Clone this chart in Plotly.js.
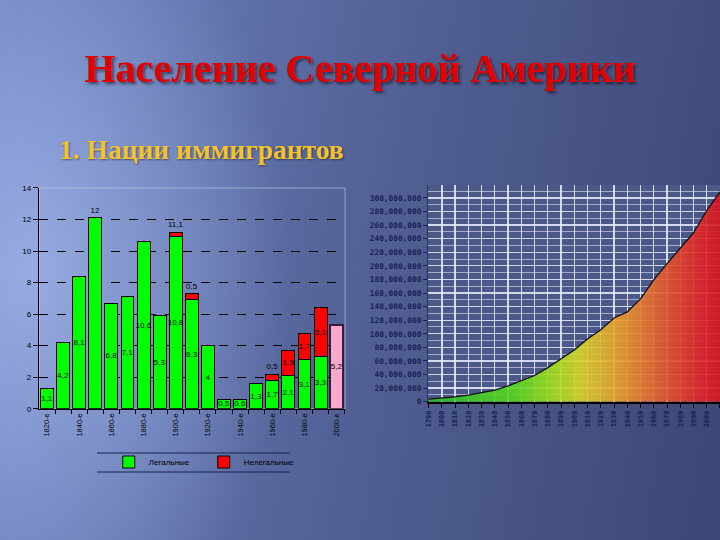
<!DOCTYPE html>
<html>
<head>
<meta charset="utf-8">
<script src="https://cdn.plot.ly/plotly-3.0.1.min.js"></script>
<style>
html, body { margin: 0; padding: 0; }
body {
  width: 720px; height: 540px; overflow: hidden;
  background:
    radial-gradient(ellipse 260px 420px at 30px 270px, rgba(160,180,235,0.85), rgba(160,180,235,0) 100%),
    linear-gradient(100deg, #6c80bd 0%, #5f72aa 28%, #4e5c8f 58%, #3d4775 100%);
}
#chart { width: 720px; height: 540px; }
</style>
</head>
<body>
<div id="chart"></div>
<script>
// ---- Left chart: immigration by decade ----
const decades = [1820,1830,1840,1850,1860,1870,1880,1890,1900,1910,1920,1930,1940,1950,1960,1970,1980,1990,2000];
const decadeTicks = [1820,1840,1860,1880,1900,1920,1940,1960,1980,2000];
const decadeTickLabels = ['1820-е','1840-е','1860-е','1880-е','1900-е','1920-е','1940-е','1960-е','1980-е','2000-е'];
const legal = [1.3,4.2,8.4,12.1,6.7,7.1,10.6,5.9,10.9,6.9,4.0,0.6,0.6,1.6,1.8,2.1,3.1,3.3,null];
const legalText = ['1,1','4,2','8,1','12','6,8','7,1','10,6','5,3','10,8','6,3','4','0,5','0,6','1,3','1,7','2,1','3,1','3,3',''];
const illegal = [null,null,null,null,null,null,null,null,0.3,0.4,null,null,null,null,0.4,1.6,1.7,3.1,null];
const illegalText = ['','','','','','','','','11,1','0,5','','','','','0,5','1,5','1,7','3,1',''];
const forecast = [null,null,null,null,null,null,null,null,null,null,null,null,null,null,null,null,null,null,5.3];
const forecastText = ['','','','','','','','','','','','','','','','','','','5,2'];
const legendNames = ['Легальные','Нелегальные'];

// ---- Right chart: US population ----
const years = [1790,1800,1810,1820,1830,1840,1850,1860,1870,1880,1890,1900,1910,1920,1930,1940,1950,1960,1970,1980,1990,2000,2010];
const population = [3.93e6,5.31e6,7.24e6,9.64e6,12.87e6,17.07e6,23.19e6,31.44e6,38.56e6,50.19e6,62.98e6,76.21e6,92.23e6,106.02e6,123.2e6,132.16e6,151.33e6,179.32e6,203.3e6,226.54e6,248.71e6,281.42e6,308.75e6];

const titleText = 'Население Северной Америки';
const subtitleText = '1. Нации иммигрантов';

const legalPos = legal.map((v, i) => i === 3 ? 'outside' : 'inside');
const illegalPos = illegal.map((v, i) => (i === 8 || i === 9 || i === 14) ? 'outside' : 'inside');

const smallFont = {family: 'Liberation Sans, Arial, sans-serif', size: 8, color: '#000'};

const traces = [
  {
    type: 'bar', x: decades, y: legal, name: legendNames[0],
    marker: {color: '#00ff00', line: {color: '#000', width: 1}},
    text: legalText, textposition: legalPos, insidetextanchor: 'middle',
    constraintext: 'none', textangle: 0, cliponaxis: false,
    textfont: smallFont, insidetextfont: smallFont, outsidetextfont: smallFont,
    hoverinfo: 'skip', xaxis: 'x', yaxis: 'y'
  },
  {
    type: 'bar', x: decades, y: illegal, name: legendNames[1],
    marker: {color: '#ff0000', line: {color: '#000', width: 1}},
    text: illegalText, textposition: illegalPos, insidetextanchor: 'middle',
    constraintext: 'none', textangle: 0, cliponaxis: false,
    textfont: smallFont, insidetextfont: smallFont, outsidetextfont: smallFont,
    hoverinfo: 'skip', xaxis: 'x', yaxis: 'y'
  },
  {
    type: 'bar', x: decades, y: forecast, showlegend: false,
    marker: {color: '#f7aacb', line: {color: '#3a1a3a', width: 1.5}},
    text: forecastText, textposition: 'inside', insidetextanchor: 'middle',
    constraintext: 'none', textangle: 0,
    textfont: smallFont, insidetextfont: smallFont,
    hoverinfo: 'skip', xaxis: 'x', yaxis: 'y'
  },
  {
    type: 'scatter', mode: 'lines', x: years, y: population, showlegend: false,
    line: {color: '#111', width: 1.3},
    fill: 'tozeroy',
    fillgradient: {
      type: 'horizontal',
      colorscale: [
        [0.00, 'rgba(40,190,40,0.9)'],
        [0.30, 'rgba(90,215,30,0.9)'],
        [0.43, 'rgba(165,220,30,0.9)'],
        [0.52, 'rgba(215,212,40,0.9)'],
        [0.65, 'rgba(232,160,45,0.9)'],
        [0.78, 'rgba(228,100,45,0.9)'],
        [0.91, 'rgba(225,45,40,0.9)'],
        [1.00, 'rgba(215,20,30,0.9)']
      ]
    },
    hoverinfo: 'skip', xaxis: 'x2', yaxis: 'y2'
  }
];

const layout = {
  width: 720, height: 540,
  margin: {l: 0, r: 0, t: 0, b: 0},
  paper_bgcolor: 'rgba(0,0,0,0)',
  plot_bgcolor: 'rgba(0,0,0,0)',
  barmode: 'stack',
  bargap: 0.2,
  showlegend: true,
  title: {
    text: titleText,
    x: 0.5, xanchor: 'center', y: 0.874, yanchor: 'middle',
    font: {family: 'Liberation Serif, Times New Roman, serif', size: 40, color: '#e00000', weight: 700,
           shadow: '2px 2px 3px rgba(0,0,0,0.55)'}
  },
  annotations: [{
    text: subtitleText, showarrow: false,
    xref: 'paper', yref: 'paper', x: 57/720, xanchor: 'left', y: 0.724, yanchor: 'middle',
    font: {family: 'Liberation Serif, Times New Roman, serif', size: 27.5, color: '#f2c230', weight: 700,
           shadow: '1px 1px 2px rgba(0,0,0,0.45)'}
  }],
  legend: {
    orientation: 'h', traceorder: 'normal',
    x: 0.283, xanchor: 'center', y: 0.1444, yanchor: 'middle',
    font: {family: 'Liberation Sans, Arial, sans-serif', size: 8, color: '#000'},
    bgcolor: 'rgba(0,0,0,0)', borderwidth: 0,
    entrywidth: 50, entrywidthmode: 'pixels', itemwidth: 30
  },
  xaxis: {
    domain: [0.0546, 0.4792], anchor: 'y',
    range: [1815.2, 2005.2],
    tickvals: decadeTicks, ticktext: decadeTickLabels,
    tickangle: -90, ticks: '',
    tickfont: {family: 'Liberation Sans, Arial, sans-serif', size: 7.5, color: '#000'},
    showline: true, linecolor: '#000', linewidth: 1.5,
    showgrid: false, zeroline: false,
    minor: {tick0: 1815, dtick: 10, ticks: 'outside', ticklen: 4, tickcolor: '#000', showgrid: false}
  },
  yaxis: {
    domain: [0.2431, 0.6519], anchor: 'x',
    range: [0, 14], dtick: 2,
    ticks: 'outside', ticklen: 5, tickcolor: '#000',
    tickfont: {family: 'Liberation Sans, Arial, sans-serif', size: 8, color: '#000'},
    showline: true, linecolor: '#000', linewidth: 1.5,
    showgrid: true, gridcolor: '#000', griddash: 'dash', gridwidth: 1,
    zeroline: false
  },
  xaxis2: {
    domain: [0.5944, 1], anchor: 'y2',
    range: [1789.5, 2010], tick0: 1790, dtick: 10,
    tickangle: -90, ticks: 'outside', ticklen: 4, tickcolor: '#000',
    tickfont: {family: 'DejaVu Sans Mono, monospace', size: 7, color: '#1b2255', weight: 700},
    showline: true, linecolor: '#000', linewidth: 2,
    showgrid: true, gridcolor: 'rgba(235,240,255,0.85)', gridwidth: 1.3,
    zeroline: false
  },
  yaxis2: {
    domain: [0.2561, 0.6574], anchor: 'x2',
    range: [0, 319e6], dtick: 20e6, tickformat: ',',
    ticks: 'outside', ticklen: 4, tickcolor: '#1b2255',
    tickfont: {family: 'DejaVu Sans Mono, monospace', size: 7.8, color: '#1b2255', weight: 700},
    showline: true, linecolor: '#2a3060', linewidth: 1,
    showgrid: true, gridcolor: 'rgba(235,240,255,0.85)', gridwidth: 1.3,
    minor: {dtick: 10e6, showgrid: true, gridcolor: 'rgba(225,230,250,0.6)', gridwidth: 1},
    zeroline: false
  },
  shapes: [
    {type: 'rect', xref: 'x2 domain', yref: 'y2 domain', x0: 0, x1: 1, y0: 0, y1: 1,
     fillcolor: '#4b5888', line: {width: 0}, layer: 'below'},
    {type: 'rect', xref: 'x domain', yref: 'y domain', x0: 0, x1: 1, y0: 0, y1: 1,
     fillcolor: 'rgba(0,0,0,0)', line: {color: 'rgba(195,205,235,0.6)', width: 1}, layer: 'below'},
    {type: 'line', xref: 'paper', yref: 'paper', x0: 97/720, x1: 290/720, y0: (540-453)/540, y1: (540-453)/540,
     line: {color: '#1a2050', width: 1}},
    {type: 'line', xref: 'paper', yref: 'paper', x0: 97/720, x1: 290/720, y0: (540-472)/540, y1: (540-472)/540,
     line: {color: '#1a2050', width: 1}}
  ]
};

Plotly.newPlot('chart', traces, layout, {staticPlot: true, displayModeBar: false});
</script>
</body>
</html>
